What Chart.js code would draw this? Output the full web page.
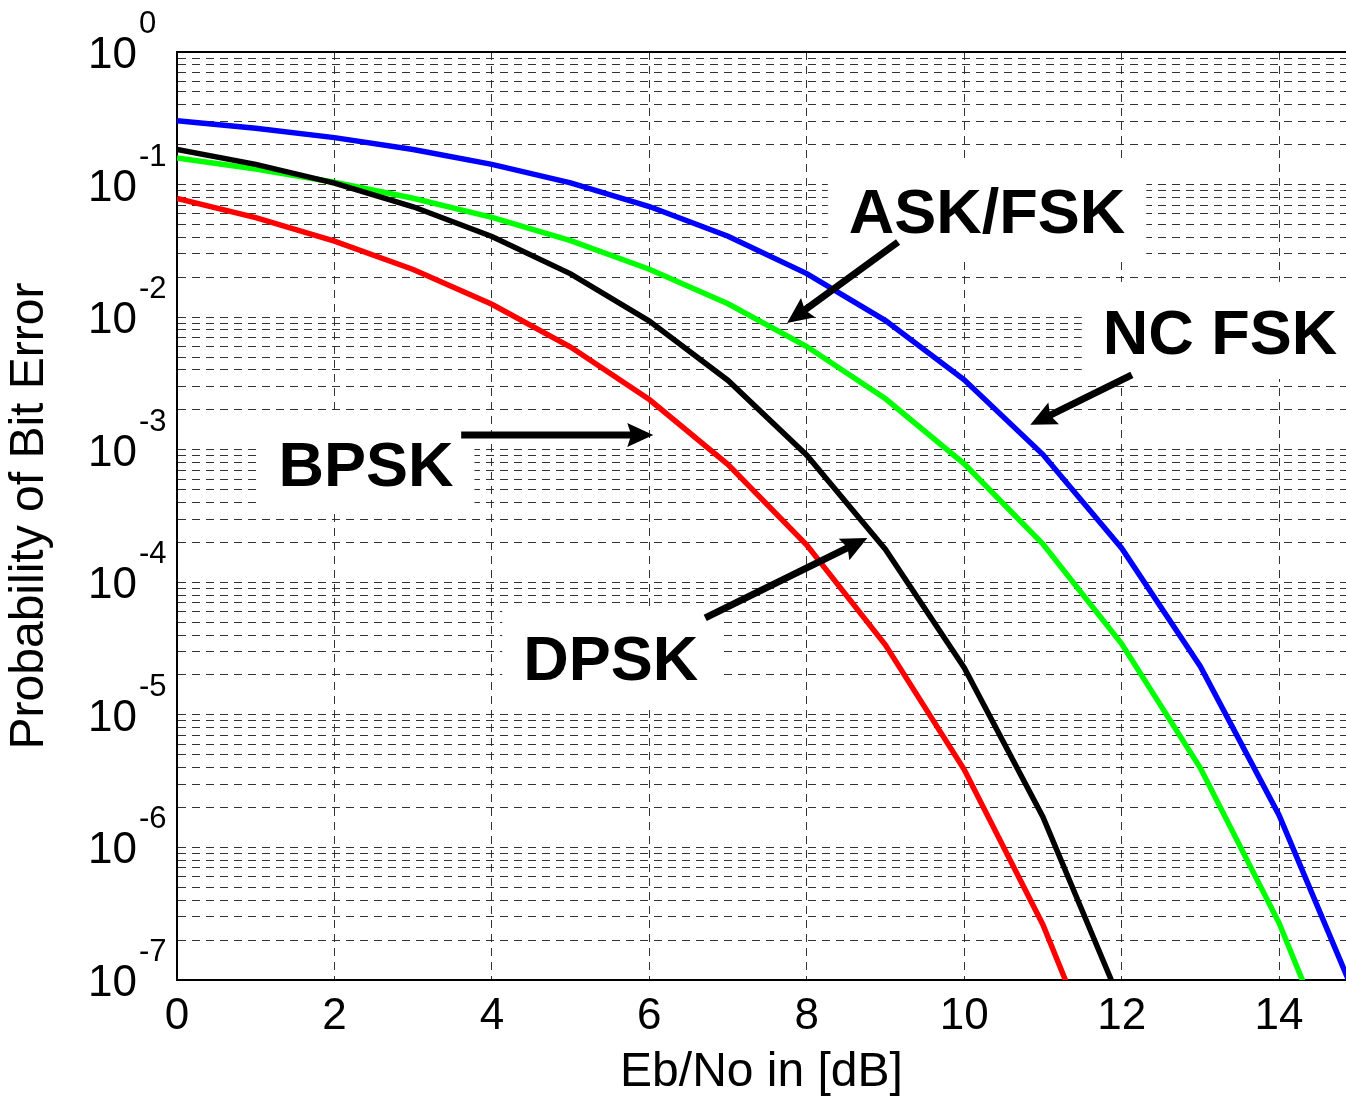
<!DOCTYPE html>
<html>
<head>
<meta charset="utf-8">
<title>Probability of Bit Error</title>
<script src="https://cdn.jsdelivr.net/npm/chart.js@4.4.1/dist/chart.umd.min.js"></script>
<style>
  html, body { margin: 0; padding: 0; background: #fff; }
  #wrap { width: 1346px; height: 1102px; }
</style>
</head>
<body>
<div id="wrap"><canvas id="berChart" width="1346" height="1102"></canvas></div>
<script>
// Eb/No points in dB
const ebNo = [0, 1, 2, 3, 4, 5, 6, 7, 8, 9, 10, 11, 12, 13, 14, 15];

// BER (values below 1e-7 only set the slope into the bottom edge)
const bpsk = [0.0786, 0.0563, 0.0375, 0.0229, 0.0125, 0.00595, 0.00239, 7.73e-4, 1.91e-4, 3.36e-5, 3.87e-6, 2.61e-7, 9.0e-9];
const dpsk = [0.184, 0.142, 0.1025, 0.068, 0.0406, 0.0212, 0.00933, 0.00333, 9.1e-4, 1.77e-4, 2.27e-5, 1.70e-6, 6.5e-8];
const askFsk = [0.159, 0.131, 0.104, 0.0789, 0.0565, 0.0377, 0.023, 0.0126, 0.006, 0.00242, 7.83e-4, 1.94e-4, 3.43e-5, 3.97e-6, 2.69e-7, 9.4e-9];
const ncFsk = [0.303, 0.266, 0.226, 0.184, 0.142, 0.103, 0.0683, 0.0408, 0.0213, 0.00942, 0.00337, 9.2e-4, 1.81e-4, 2.32e-5, 1.75e-6, 6.8e-8];

// axis ticks
const xTicks = [0, 2, 4, 6, 8, 10, 12, 14];
const yDecades = [0, -1, -2, -3, -4, -5, -6, -7];
const yMinor = [2, 3, 4, 5, 6, 7, 8, 9];

// callouts (text centre and arrow, in data units)
const callouts = [
  { text: "ASK/FSK", x: 10.29, y: 0.0643, from: [9.16, 0.0369], to: [7.75, 0.00904] },
  { text: "NC FSK", x: 13.25, y: 0.0078, from: [12.13, 0.00367], to: [10.84, 0.00154] },
  { text: "BPSK", x: 2.40, y: 7.88e-4, from: [3.61, 0.00129], to: [6.05, 0.00129] },
  { text: "DPSK", x: 5.51, y: 2.71e-5, from: [6.71, 5.39e-5], to: [8.77, 2.16e-4] },
];

const FONT = '"Liberation Sans", Arial, Helvetica, sans-serif';
Chart.defaults.font.family = FONT;
Chart.defaults.color = "#000";

function toPoints(values) {
  return values.map((v, i) => ({ x: ebNo[i], y: v }));
}

function drawArrow(ctx, x1, y1, x2, y2) {
  const ang = Math.atan2(y2 - y1, x2 - x1);
  const c = Math.cos(ang), s = Math.sin(ang);
  const headLen = 26, headHalf = 12;

  ctx.lineWidth = 7;
  ctx.lineCap = "butt";
  ctx.beginPath();
  ctx.moveTo(x1, y1);
  ctx.lineTo(x2 - (headLen - 6) * c, y2 - (headLen - 6) * s);
  ctx.stroke();

  const bx = x2 - headLen * c, by = y2 - headLen * s;
  ctx.beginPath();
  ctx.moveTo(x2, y2);
  ctx.lineTo(bx - headHalf * s, by + headHalf * c);
  ctx.lineTo(x2 - (headLen - 4) * c, y2 - (headLen - 4) * s);
  ctx.lineTo(bx + headHalf * s, by - headHalf * c);
  ctx.closePath();
  ctx.fill();
}

const decorPlugin = {
  id: "berDecor",
  beforeDraw(chart) {
    const { ctx, width, height } = chart;
    ctx.save();
    ctx.fillStyle = "#fff";
    ctx.fillRect(0, 0, width, height);
    ctx.restore();
  },
  beforeDatasetsDraw(chart) {
    const { ctx, chartArea, scales } = chart;
    const x = scales.x, y = scales.y;
    ctx.save();

    // top frame
    ctx.strokeStyle = "#000";
    ctx.lineWidth = 2;
    ctx.beginPath();
    ctx.moveTo(chartArea.left, chartArea.top);
    ctx.lineTo(chartArea.right, chartArea.top);
    ctx.stroke();

    // y tick labels 10^n
    ctx.fillStyle = "#000";
    ctx.textBaseline = "alphabetic";
    yDecades.forEach((e) => {
      const py = y.getPixelForValue(Math.pow(10, e));
      ctx.font = "44px " + FONT;
      ctx.textAlign = "right";
      ctx.fillText("10", chartArea.left - 40, py + 16);
      ctx.font = "31px " + FONT;
      ctx.textAlign = "left";
      ctx.fillText(String(e), chartArea.left - 38, py - 19);
    });

    // callout labels on white boxes
    ctx.font = "bold 63px " + FONT;
    ctx.textAlign = "center";
    const cap = 0.716 * 63;
    callouts.forEach((a) => {
      const cx = x.getPixelForValue(a.x);
      const cy = y.getPixelForValue(a.y);
      const w = ctx.measureText(a.text).width;
      const base = cy + cap / 2;
      ctx.fillStyle = "#fff";
      ctx.fillRect(cx - w / 2 - 21, base - cap - 27, w + 42, cap + 52);
      ctx.fillStyle = "#000";
      ctx.fillText(a.text, cx, base);
    });
    ctx.restore();
  },
  afterDatasetsDraw(chart) {
    const { ctx, scales } = chart;
    const x = scales.x, y = scales.y;
    ctx.save();
    ctx.strokeStyle = "#000";
    ctx.fillStyle = "#000";
    callouts.forEach((a) => {
      drawArrow(
        ctx,
        x.getPixelForValue(a.from[0]), y.getPixelForValue(a.from[1]),
        x.getPixelForValue(a.to[0]), y.getPixelForValue(a.to[1])
      );
    });
    ctx.restore();
  },
};

const gridStyle = { color: "#333", lineWidth: 1, drawTicks: false };
const borderStyle = { display: true, color: "#000", width: 2, dash: [8, 6] };

new Chart(document.getElementById("berChart").getContext("2d"), {
  type: "line",
  data: {
    datasets: [
      { label: "BPSK", data: toPoints(bpsk), borderColor: "#ff0000" },
      { label: "DPSK", data: toPoints(dpsk), borderColor: "#000000" },
      { label: "ASK/FSK", data: toPoints(askFsk), borderColor: "#00ff00" },
      { label: "NC FSK", data: toPoints(ncFsk), borderColor: "#0000ff" },
    ].map((d) => Object.assign(d, { borderWidth: 5.5, pointRadius: 0, fill: false, tension: 0 })),
  },
  options: {
    responsive: false,
    animation: false,
    layout: { padding: { top: 52, right: 0, bottom: 0, left: 0 } },
    plugins: {
      legend: { display: false },
      tooltip: { enabled: false },
    },
    scales: {
      x: {
        type: "linear",
        min: 0,
        max: 14.85,
        afterBuildTicks: (scale) => {
          scale.ticks = xTicks.map((v) => ({ value: v }));
        },
        afterFit: (scale) => {
          scale.height = 122;
        },
        grid: gridStyle,
        border: borderStyle,
        ticks: {
          font: { size: 44 },
          color: "#000",
          padding: 10,
          maxRotation: 0,
          autoSkip: false,
        },
        title: {
          display: true,
          text: "Eb/No in [dB]",
          font: { size: 48 },
          color: "#000",
          padding: { top: 0, bottom: 0 },
        },
      },
      y: {
        type: "logarithmic",
        min: 1e-7,
        max: 1,
        afterBuildTicks: (scale) => {
          const ticks = [];
          yDecades.forEach((e) => {
            ticks.push({ value: Math.pow(10, e), major: true });
            if (e < 0) {
              yMinor.forEach((m) => ticks.push({ value: m * Math.pow(10, e) }));
            }
          });
          scale.ticks = ticks.sort((a, b) => a.value - b.value);
        },
        afterFit: (scale) => {
          scale.width = 177;
        },
        grid: gridStyle,
        border: borderStyle,
        ticks: { display: false },
        title: {
          display: true,
          text: "Probability of Bit Error",
          font: { size: 48 },
          color: "#000",
          padding: { top: 1, bottom: 0 },
        },
      },
    },
  },
  plugins: [decorPlugin],
});
</script>
</body>
</html>
